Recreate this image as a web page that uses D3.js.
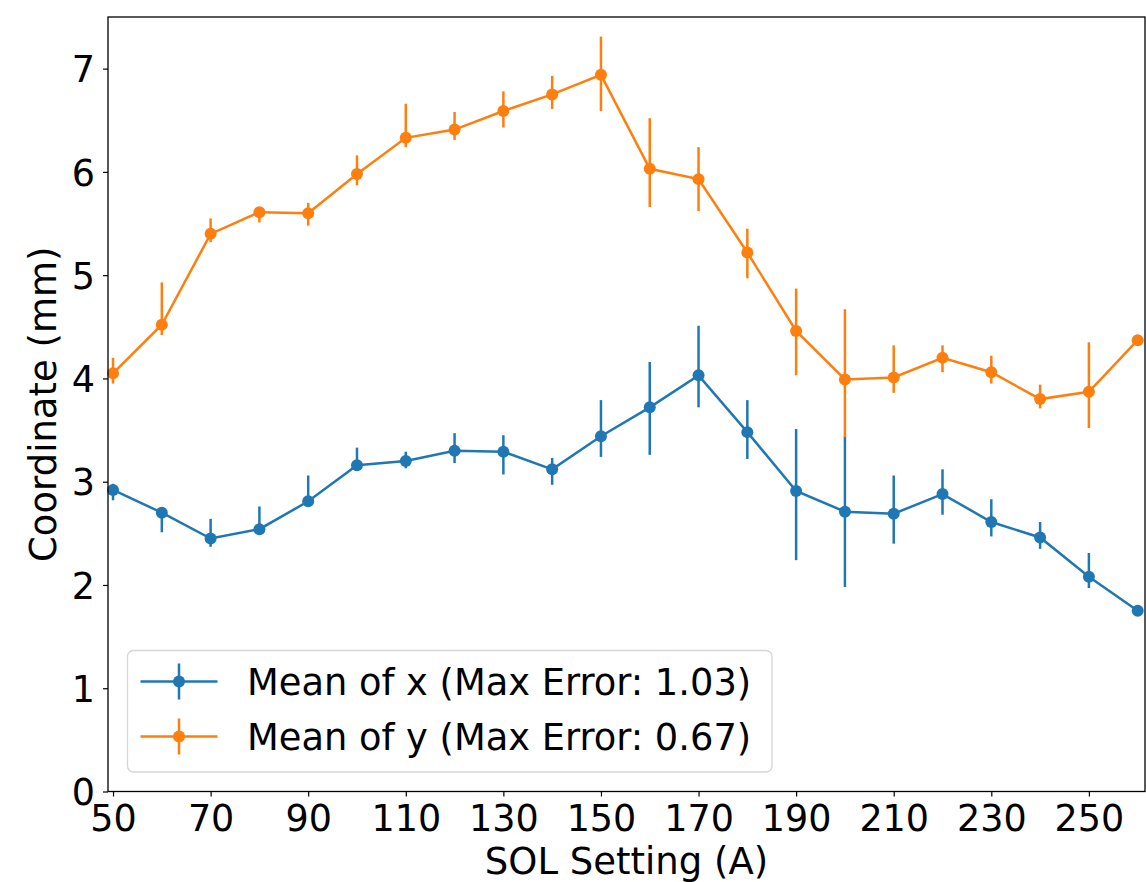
<!DOCTYPE html>
<html>
<head>
<meta charset="utf-8">
<script src="https://cdn.jsdelivr.net/npm/d3@7"></script>
<style>
  html, body { margin: 0; padding: 0; background: #fff; }
  svg { display: block; }
  text { font-family: "DejaVu Sans", sans-serif; fill: #000; }
</style>
</head>
<body>
<svg id="chart" width="1146" height="882"></svg>
<script>
// ---- data ----
const solSetting = [50, 60, 70, 80, 90, 100, 110, 120, 130, 140, 150, 160, 170, 180, 190, 200, 210, 220, 230, 240, 250, 260];

const meanX   = [2.92, 2.70, 2.45, 2.54, 2.81, 3.16, 3.20, 3.30, 3.29, 3.12, 3.44, 3.72, 4.03, 3.48, 2.91, 2.71, 2.69, 2.88, 2.61, 2.46, 2.08, 1.75];
const meanXHi = [2.98, 2.73, 2.64, 2.76, 3.06, 3.33, 3.29, 3.47, 3.45, 3.23, 3.79, 4.16, 4.51, 3.79, 3.51, 3.44, 3.06, 3.12, 2.83, 2.61, 2.31, 1.75];
const meanXLo = [2.82, 2.51, 2.37, 2.52, 2.79, 3.15, 3.13, 3.18, 3.07, 2.97, 3.24, 3.26, 3.72, 3.22, 2.24, 1.98, 2.40, 2.68, 2.47, 2.35, 1.97, 1.75];

const meanY   = [4.05, 4.52, 5.40, 5.61, 5.60, 5.98, 6.33, 6.41, 6.59, 6.75, 6.94, 6.03, 5.93, 5.22, 4.46, 3.99, 4.01, 4.20, 4.06, 3.80, 3.87, 4.37];
const meanYHi = [4.20, 4.93, 5.55, 5.66, 5.70, 6.16, 6.66, 6.58, 6.78, 6.93, 7.31, 6.52, 6.24, 5.45, 4.87, 4.67, 4.32, 4.32, 4.22, 3.94, 4.35, 4.37];
const meanYLo = [3.95, 4.42, 5.32, 5.51, 5.48, 5.87, 6.24, 6.31, 6.43, 6.61, 6.59, 5.66, 5.62, 4.97, 4.03, 3.43, 3.86, 4.06, 3.95, 3.71, 3.52, 4.37];

const xTicks = [50, 70, 90, 110, 130, 150, 170, 190, 210, 230, 250];
const yTicks = [0, 1, 2, 3, 4, 5, 6, 7];

const seriesNames = ["Mean of x (Max Error: 1.03)", "Mean of y (Max Error: 0.67)"];
const seriesColors = ["#1f77b4", "#ff7f0e"];
const xLabel = "SOL Setting (A)";
const yLabel = "Coordinate (mm)";

// ---- layout ----
const mLeft = 108, mRight = 1145, mTop = 17, mBottom = 791.5;
const svg = d3.select("#chart");

const x = d3.scaleLinear().domain([48.97, 261.5]).range([mLeft, mRight]);
const y = d3.scaleLinear().domain([0, 7.5]).range([mBottom, mTop]);

const series = [
  { name: seriesNames[0], color: seriesColors[0], v: meanX, hi: meanXHi, lo: meanXLo },
  { name: seriesNames[1], color: seriesColors[1], v: meanY, hi: meanYHi, lo: meanYLo }
];

// ---- data marks ----
const plot = svg.append("g");
series.forEach(s => {
  const pts = solSetting.map((d, i) => ({ x: d, v: s.v[i], hi: s.hi[i], lo: s.lo[i] }));
  const line = d3.line().x(d => x(d.x)).y(d => y(d.v));
  plot.append("path")
    .attr("d", line(pts))
    .attr("fill", "none")
    .attr("stroke", s.color)
    .attr("stroke-width", 2.5);
  plot.selectAll(null).data(pts.filter(d => d.hi !== d.lo)).enter().append("line")
    .attr("x1", d => x(d.x)).attr("x2", d => x(d.x))
    .attr("y1", d => y(d.hi)).attr("y2", d => y(d.lo))
    .attr("stroke", s.color).attr("stroke-width", 2.5);
  plot.selectAll(null).data(pts).enter().append("circle")
    .attr("cx", d => x(d.x)).attr("cy", d => y(d.v))
    .attr("r", 6).attr("fill", s.color);
});

// ---- axes ----
const xAxis = d3.axisBottom(x).tickValues(xTicks).tickSize(5).tickPadding(6).tickFormat(d3.format("d"));
const yAxis = d3.axisLeft(y).tickValues(yTicks).tickSize(5).tickPadding(8).tickFormat(d3.format("d"));

const gx = svg.append("g").attr("transform", `translate(0,${mBottom})`).call(xAxis);
const gy = svg.append("g").attr("transform", `translate(${mLeft},0)`).call(yAxis);
[gx, gy].forEach(g => {
  g.select(".domain").remove();
  g.selectAll(".tick line").attr("stroke", "#000").attr("stroke-width", 1.2);
  g.selectAll(".tick text").style("font-size", "36.5px").style("font-family", "DejaVu Sans, sans-serif").attr("fill", "#000");
});
gx.selectAll(".tick text").attr("dy", "0.78em");
gy.selectAll(".tick text").attr("dy", "0.36em");

// spines
svg.append("rect")
  .attr("x", mLeft).attr("y", mTop)
  .attr("width", mRight - mLeft).attr("height", mBottom - mTop)
  .attr("fill", "none").attr("stroke", "#000").attr("stroke-width", 1.3);

// axis labels
svg.append("text")
  .attr("x", (mLeft + mRight) / 2).attr("y", 874)
  .attr("text-anchor", "middle")
  .style("font-size", "37px")
  .text(xLabel);
svg.append("text")
  .attr("transform", `translate(56,${(mTop + mBottom) / 2}) rotate(-90)`)
  .attr("text-anchor", "middle")
  .style("font-size", "37px")
  .text(yLabel);

// ---- legend ----
const lg = svg.append("g");
lg.append("rect")
  .attr("x", 127.5).attr("y", 650.5).attr("width", 644.5).attr("height", 121.5)
  .attr("rx", 6).attr("ry", 6)
  .attr("fill", "#fff").attr("fill-opacity", 0.8)
  .attr("stroke", "#d6d6d6").attr("stroke-width", 1.3);
series.forEach((s, i) => {
  const cy = 681.5 + i * 55;
  lg.append("line").attr("x1", 140.5).attr("x2", 217.5).attr("y1", cy).attr("y2", cy)
    .attr("stroke", s.color).attr("stroke-width", 2.5);
  lg.append("line").attr("x1", 179).attr("x2", 179).attr("y1", cy - 18).attr("y2", cy + 18)
    .attr("stroke", s.color).attr("stroke-width", 2.5);
  lg.append("circle").attr("cx", 179).attr("cy", cy).attr("r", 6).attr("fill", s.color);
  lg.append("text").attr("x", 247).attr("y", cy + 13.5)
    .style("font-size", "36.8px")
    .text(s.name);
});
</script>
</body>
</html>
